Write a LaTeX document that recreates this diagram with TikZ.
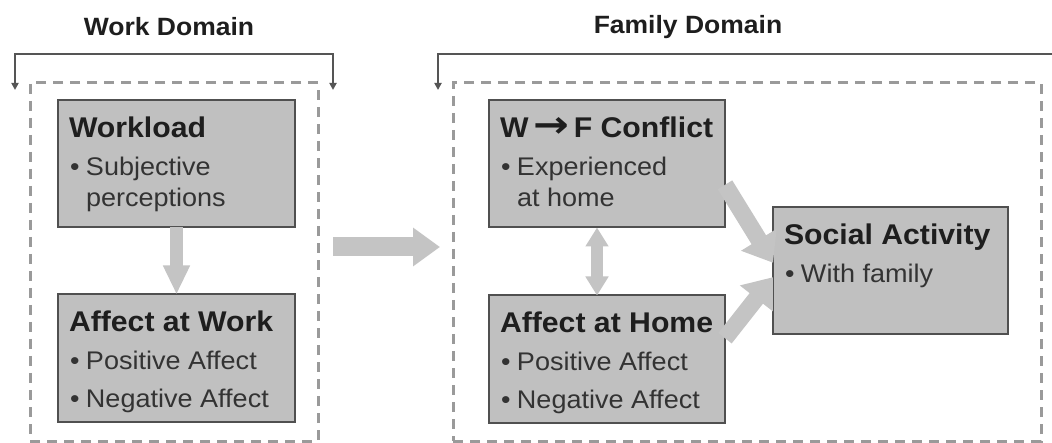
\documentclass[tikz,border=0pt]{standalone}
\usepackage{fontspec}
\setmainfont{Liberation Sans}[FakeStretch=1.06]
\newfontfamily\symfont{DejaVu Sans}
\usetikzlibrary{arrows.meta,positioning}
\definecolor{boxgray}{HTML}{C0C0C0}
\definecolor{edgegray}{HTML}{505050}
\definecolor{arrowgray}{HTML}{C4C4C4}
\definecolor{dashgray}{HTML}{9A9A9A}
\definecolor{bracketgray}{HTML}{555555}
\definecolor{titlecol}{HTML}{1E1E1E}
\definecolor{bodycol}{HTML}{333333}

\newcommand{\bitem}{\par\vspace{7pt}\hangindent=17pt\hangafter=1\noindent
  \color{bodycol}\makebox[17pt][l]{\hspace{1pt}\textbullet}}
\newcommand{\boxtext}[3]{\begin{minipage}[c][127pt][t]{#1}\raggedright
  {\fontsize{28.5}{30}\selectfont\bfseries\rule{0pt}{37pt}#2\par}
  {\fontsize{25.5}{31}\selectfont #3\par}\end{minipage}}

\begin{document}
\begin{tikzpicture}[x=1pt, y=-1pt, node distance=67pt,
    box/.style={draw=edgegray, fill=boxgray, line width=2pt, text=titlecol,
      inner xsep=11pt, inner ysep=0pt, outer sep=0pt},
    domainbox/.style={draw=dashgray, line width=3pt, dash pattern=on 10pt off 7pt,
      inner sep=0pt, outer sep=0pt},
    domtitle/.style={font=\fontsize{25}{28}\selectfont\bfseries, text=titlecol, inner sep=0pt},
    fat/.style={draw=arrowgray, line width=#1},
    bracket/.style={draw=bracketgray, line width=2pt}]
\useasboundingbox (0,0) rectangle (1052,443);
\fill[white] (0,0) rectangle (1052,443);

\node[domtitle] (wt) at (169,27) {Work Domain};
\node[domtitle] (ft) at (688,27) {Family Domain};
\node[domainbox, minimum width=288pt, minimum height=358pt] (wd) at (174,262) {};
\node[domainbox, minimum width=588pt, minimum height=358pt] (fd) at (747,262) {};

\node[box] (wl) at (176.5,164) {\boxtext{215pt}{Workload}{\bitem Subjective\newline perceptions}};
\node[box, below=of wl] (aw) {\boxtext{215pt}{Affect at Work}{\bitem Positive Affect\bitem Negative Affect}};
\node[box] (wf) at (607,164) {\boxtext{214pt}{W\,\scalebox{1.5}[1.3]{\symfont →}\,F Conflict}{\bitem Experienced\newline at home}};
\node[box, below=68pt of wf] (ah) {\boxtext{214pt}{Affect at Home}{\bitem Positive Affect\bitem Negative Affect}};
\node[box] (sa) at (890.5,271) {\boxtext{213pt}{Social Activity}{\bitem With family}};

\coordinate (wb1) at (15,90);
\coordinate (wb2) at (333,90);
\coordinate (fb1) at (438,90);
\coordinate (fb2) at (1052,54);
\coordinate (ma) at (333,247);
\coordinate (mb) at (440,247);

\draw[bracket, {Triangle[width=7pt,length=7pt]}-{Triangle[width=7pt,length=7pt]}] (wb1) -- ++(0,-36) -| (wb2);
\draw[bracket, {Triangle[width=7pt,length=7pt]}-] (fb1) |- (fb2);

\path (wl) edge[fat=13pt, -{Triangle[width=25pt,length=29pt]}] (aw)
  (ma) edge[fat=19pt, -{Triangle[width=37pt,length=27pt]}] (mb)
  ([xshift=-10pt]wf.south) edge[fat=12pt, {Triangle[width=22pt,length=19pt]}-{Triangle[width=22pt,length=19pt]}] ([xshift=-10pt]ah.north)
  (wf.-10) edge[fat=17pt, -{Triangle[width=40pt,length=27pt]}] (sa.176)
  (ah.10) edge[fat=17pt, -{Triangle[width=40pt,length=27pt]}] (sa.183);
\end{tikzpicture}
\end{document}
